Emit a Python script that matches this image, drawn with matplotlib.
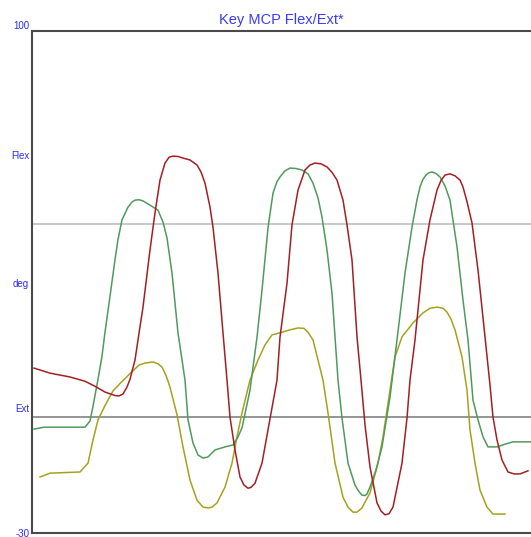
import matplotlib
matplotlib.use("Agg")
import matplotlib.pyplot as plt

plt.rcParams['font.family'] = ['Liberation Sans', 'DejaVu Sans']

# Joint angle traces (frame index, degrees)
frames_green = [2, 12, 53, 58, 61, 66, 70, 73, 78, 83, 86, 90, 96, 100, 103, 107, 111, 118, 126, 131,
                135, 140, 146, 153, 156, 161, 166, 171, 176, 183, 193, 201, 206, 210, 218, 225, 230,
                236, 241, 245, 248, 253, 258, 264, 270, 276, 281, 286, 290, 295, 300, 303, 306, 310,
                316, 323, 327, 330, 333, 335, 338, 344, 350, 358, 365, 373, 380, 385, 388, 391, 394,
                397, 400, 404, 408, 413, 418, 425, 431, 436, 441, 446, 451, 456, 465, 473, 481, 499]
angle_green = [-3.1, -2.6, -2.6, -1.0, 2.8, 9.8, 15.8, 22.0, 31.3, 40.8, 46.0, 51.1, 54.4, 55.7, 56.2,
               56.3, 56.0, 54.9, 53.6, 50.5, 46.4, 37.3, 21.8, 9.6, -0.7, -6.7, -9.8, -10.6, -10.3,
               -8.5, -7.7, -7.2, -5.1, -2.8, 7.0, 20.7, 32.9, 49.0, 58.0, 61.0, 62.2, 63.8, 64.5, 64.4,
               64.0, 63.0, 60.6, 56.8, 51.8, 43.3, 32.1, 20.8, 9.6, -0.2, -11.9, -17.6, -19.3, -20.2,
               -20.3, -19.9, -18.1, -13.7, -7.7, 5.2, 20.0, 37.3, 49.2, 56.3, 59.6, 61.6, 62.7, 63.3,
               63.5, 63.1, 62.2, 59.9, 56.2, 44.1, 30.3, 20.0, 4.4, -0.7, -5.1, -7.7, -7.7, -7.0, -6.4,
               -6.4]

frames_red = [2, 18, 38, 53, 63, 73, 83, 87, 91, 95, 98, 103, 106, 111, 118, 123, 128, 133, 137, 141,
              146, 151, 158, 165, 169, 173, 178, 181, 186, 191, 195, 198, 203, 208, 212, 216, 219, 223,
              230, 236, 245, 248, 255, 260, 266, 273, 278, 283, 289, 295, 300, 305, 311, 315, 320, 325,
              329, 333, 338, 345, 349, 353, 357, 361, 370, 375, 378, 383, 391, 398, 405, 409, 413, 418,
              423, 428, 431, 435, 440, 446, 453, 458, 461, 465, 470, 476, 482, 488, 496]
angle_red = [12.7, 11.4, 10.4, 9.3, 8.0, 6.5, 5.6, 5.5, 6.0, 7.8, 9.8, 14.8, 20.0, 28.5, 43.3, 52.9,
             61.4, 65.8, 67.3, 67.6, 67.5, 67.1, 66.6, 65.3, 63.5, 60.6, 54.4, 49.2, 37.3, 21.8, 9.6,
             0.0, -8.5, -15.5, -17.6, -18.4, -18.2, -17.1, -11.9, -3.3, 9.6, 20.7, 34.7, 49.8, 58.8,
             64.0, 65.3, 65.8, 65.6, 64.8, 63.4, 61.4, 56.2, 49.8, 40.7, 20.8, 9.6, -2.0, -12.9, -22.2,
             -24.3, -25.3, -25.0, -23.3, -11.9, -0.2, 9.6, 20.0, 40.7, 51.1, 58.8, 61.3, 62.7, 63.0,
             62.5, 61.4, 59.6, 55.8, 50.3, 38.1, 20.8, 8.3, 0.0, -5.9, -11.1, -14.2, -14.7, -14.7,
             -13.9]

frames_yellow = [8, 18, 48, 56, 61, 66, 73, 81, 91, 101, 107, 113, 121, 126, 130, 134, 138, 145, 151,
                 158, 165, 171, 176, 180, 185, 193, 200, 205, 210, 218, 226, 233, 240, 250, 258, 266,
                 272, 276, 281, 286, 291, 296, 303, 311, 316, 321, 325, 330, 338, 346, 351, 358, 363,
                 370, 381, 391, 398, 405, 411, 415, 419, 423, 430, 435, 438, 443, 448, 455, 461, 473]
angle_yellow = [-15.5, -14.5, -14.2, -11.9, -5.9, -0.7, 3.0, 6.8, 9.5, 12.0, 13.5, 14.0, 14.3, 13.8,
                13.0, 10.8, 7.8, 0.6, -7.7, -16.3, -21.5, -23.3, -23.5, -23.3, -22.2, -18.1, -11.9,
                -5.1, 1.1, 9.6, 14.8, 18.7, 21.3, 22.0, 22.6, 23.1, 23.0, 22.0, 20.0, 14.8, 9.6, 1.1,
                -11.9, -20.7, -23.3, -24.6, -24.6, -23.5, -19.6, -11.9, -5.1, 7.0, 15.6, 20.8, 24.4,
                27.0, 28.2, 28.5, 28.2, 27.2, 25.4, 22.6, 15.6, 7.0, -3.3, -11.9, -18.9, -23.3, -25.1,
                -25.1]

y_min, y_max = -30, 100
ref_flex, ref_ext = 50, 0
tick_values = [100, 67.9, 34.7, 2.4, -30]
tick_labels = ['100', 'Flex', 'deg', 'Ext', '-30']

W, H = 531, 537
fig = plt.figure(figsize=(W / 100, H / 100), dpi=100)
ax = fig.add_axes([32 / W, 4 / H, 1 - 32 / W, (533 - 31) / H])

ax.axhline(ref_flex, color='#c4c4c4', lw=1.3, zorder=1)
ax.axhline(ref_ext, color='#8c8c8c', lw=1.3, zorder=1)

ax.plot(frames_green, angle_green, color='#4f9a5c', lw=1.1, zorder=3)
ax.plot(frames_red, angle_red, color='#a31f24', lw=1.1, zorder=3)
ax.plot(frames_yellow, angle_yellow, color='#a5a21e', lw=1.1, zorder=2)

ax.set_xlim(0, 499)
ax.set_ylim(y_min, y_max)
ax.set_xticks([])
ax.set_yticks(tick_values)
ax.set_yticklabels(tick_labels)
ax.tick_params(axis='y', length=0, pad=2, labelsize=7, labelcolor='#2b2bff')
for lbl in ax.get_yticklabels():
    if lbl.get_text() == '100':
        lbl.set_verticalalignment('bottom')

for side in ('left', 'top', 'bottom'):
    ax.spines[side].set_color('#4a4a4a')
    ax.spines[side].set_linewidth(1.5)
ax.spines['right'].set_visible(False)

ax.set_title('Key MCP Flex/Ext*', color='#3a3aff', fontsize=10.5, pad=5)

fig.savefig('out.png', dpi=100)
